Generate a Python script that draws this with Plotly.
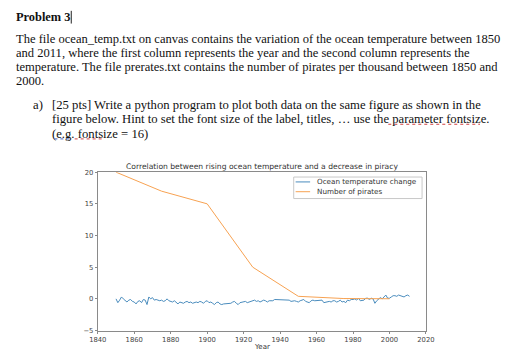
import plotly.graph_objects as go

W, H = 516, 358

# ---- data ----
pirate_years = [1850, 1875, 1900, 1925, 1950, 1975, 2000]
pirate_counts = [20, 17, 15, 5, 0.4, 0.05, 0.017]

temp_years = list(range(1850, 2012))
temp_values = [
    0.0, -0.6, -0.2, 0.3, 0.0, -0.3, -0.5, -0.2, -0.1, -0.4,
    -0.5, -0.8, -0.4, -0.3, -0.6, -0.1, -0.2, -0.9, 0.3, 0.0,
    0.2, -0.2, -0.1, -0.2, -0.3, -0.2, -0.4, -0.3, 0.0, -0.3,
    -0.4, -0.5, -0.3, -0.6, -0.8, -0.5, -0.6, -0.7, -0.5, -0.4,
    -0.6, -0.5, -0.7, -0.6, -0.5, -0.6, -0.4, -0.5, -0.7, -0.4,
    -0.3, -0.6, -0.5, -0.7, -0.9, -0.6, -0.5, -0.8, -0.9, -0.8,
    -0.8, -0.8, -0.7, -0.7, -0.5, -0.4, -0.7, -0.9, -0.6, -0.5,
    -0.5, -0.4, -0.6, -0.5, -0.4, -0.3, -0.2, -0.4, -0.3, -0.5,
    -0.3, -0.2, -0.3, -0.5, -0.3, -0.3, -0.3, -0.1, -0.1, -0.2,
    -0.1, -0.1, -0.2, -0.2, -0.1, -0.2, -0.4, -0.3, -0.3, -0.4,
    -0.5, -0.3, -0.2, -0.1, -0.4, -0.5, -0.6, -0.3, -0.2, -0.3,
    -0.3, -0.2, -0.3, -0.2, -0.6, -0.5, -0.4, -0.4, -0.5, -0.3,
    -0.3, -0.5, -0.4, -0.2, -0.5, -0.4, -0.6, -0.2, -0.3, -0.1,
    -0.1, 0.0, -0.2, 0.1, -0.3, -0.3, -0.2, 0.1, 0.1, -0.1,
    0.1, 0.0, -0.7, -0.3, -0.1, 0.2, 0.0, 0.3, 0.6, 0.1,
    0.1, 0.3, 0.5, 0.5, 0.4, 0.6, 0.5, 0.5, 0.3, 0.5,
    0.6, 0.4,
]

x_ticks = [1840, 1860, 1880, 1900, 1920, 1940, 1960, 1980, 2000, 2020]
y_ticks = [-5, 0, 5, 10, 15, 20]

chart_title = "Correlation between rising ocean temperature and a decrease in piracy"
series_names = ["Ocean temperature change", "Number of pirates"]
series_colors = ["#4a8cbd", "#f7a252"]

heading = "Problem 3"
paragraph = [
    "The file ocean_temp.txt on canvas contains the variation of the ocean temperature between 1850",
    "and 2011, where the first column represents the year and the second column represents the",
    "temperature. The file prerates.txt contains the number of pirates per thousand between 1850 and",
    "2000.",
]
question = [
    "[25 pts] Write a python program to plot both data on the same figure as shown in the",
    "figure below. Hint to set the font size of the label, titles, \u2026 use the parameter fontsize.",
    "(e.g. fontsize = 16)",
]


def px(x):
    return x / W


def py(y):
    return 1 - y / H


fig = go.Figure()
fig.add_trace(go.Scatter(x=temp_years, y=temp_values, mode="lines",
                         name=series_names[0],
                         line=dict(color=series_colors[0], width=1)))
fig.add_trace(go.Scatter(x=pirate_years, y=pirate_counts, mode="lines",
                         name=series_names[1],
                         line=dict(color=series_colors[1], width=1)))

axis_common = dict(showgrid=False, zeroline=False, showline=True, mirror=True,
                   linecolor="#8a8a8a", linewidth=1, ticks="outside", ticklen=2,
                   tickcolor="#8a8a8a",
                   tickfont=dict(family="DejaVu Sans", size=6.8, color="#444"))

fig.update_layout(
    width=W, height=H,
    margin=dict(l=0, r=0, t=0, b=0),
    paper_bgcolor="white", plot_bgcolor="white",
    showlegend=False,
    xaxis=dict(domain=[px(92), px(432)], range=[1840, 2020], tickvals=x_ticks,
               **axis_common),
    yaxis=dict(domain=[py(334), py(172)], range=[-5, 20], tickvals=y_ticks,
               **axis_common),
)

ann = []
serif = "Liberation Serif"
FS_P = 12.55
FS_Q = 12.7
ann.append(dict(text="<b>" + heading + "</b>", x=px(6), y=py(13), xanchor="left",
                yanchor="middle", font=dict(family=serif, size=12.4, color="#111")))
for i, line in enumerate(paragraph):
    ann.append(dict(text=line, x=px(6), y=py(36 + 14.2 * i), xanchor="left",
                    yanchor="middle", font=dict(family=serif, size=FS_P, color="#111")))
ann.append(dict(text="a)", x=px(24), y=py(103), xanchor="left", yanchor="middle",
                font=dict(family=serif, size=FS_Q, color="#111")))
for i, line in enumerate(question):
    ann.append(dict(text=line, x=px(44), y=py(103 + 15 * i), xanchor="left",
                    yanchor="middle", font=dict(family=serif, size=FS_Q, color="#111")))

sans = "DejaVu Sans"
ann.append(dict(text=chart_title, x=px(262), y=py(166), xanchor="center",
                yanchor="middle", font=dict(family=sans, size=7.6, color="#333")))
ann.append(dict(text="Year", x=px(262), y=py(351), xanchor="center",
                yanchor="middle", font=dict(family=sans, size=7, color="#333")))
for i, name in enumerate(series_names):
    ann.append(dict(text=name, x=px(318), y=py(182 + 10 * i), xanchor="left",
                    yanchor="middle", font=dict(family=sans, size=7.2, color="#333")))

for a in ann:
    a.update(xref="paper", yref="paper", showarrow=False, borderpad=0)
fig.update_layout(annotations=ann)

shapes = []
# legend frame and handles
shapes.append(dict(type="rect", x0=px(295), x1=px(428), y0=py(199), y1=py(177),
                   line=dict(color="#c8c8c8", width=1), fillcolor="white", layer="above"))
for i, c in enumerate(series_colors):
    shapes.append(dict(type="line", x0=px(297), x1=px(312), y0=py(182 + 10 * i),
                       y1=py(182 + 10 * i), line=dict(color=c, width=1), layer="above"))
# text cursor
shapes.append(dict(type="line", x0=px(64.5), x1=px(64.5), y0=py(7), y1=py(20),
                   line=dict(color="#222", width=1)))
# spell-check underlines
for (x0, x1, y, col) in [(393, 488, 123, "#d04040"), (47, 63, 138, "#4060c0"),
                          (68, 97, 138, "#d04040")]:
    shapes.append(dict(type="line", x0=px(x0), x1=px(x1), y0=py(y), y1=py(y),
                       line=dict(color=col, width=1, dash="dot")))
for s in shapes:
    s.update(xref="paper", yref="paper")
fig.update_layout(shapes=shapes)

fig.write_html(
    "out.html",
    config={"displayModeBar": False},
    post_script="document.body.style.margin='0';"
                "document.documentElement.style.overflow='hidden';",
)
